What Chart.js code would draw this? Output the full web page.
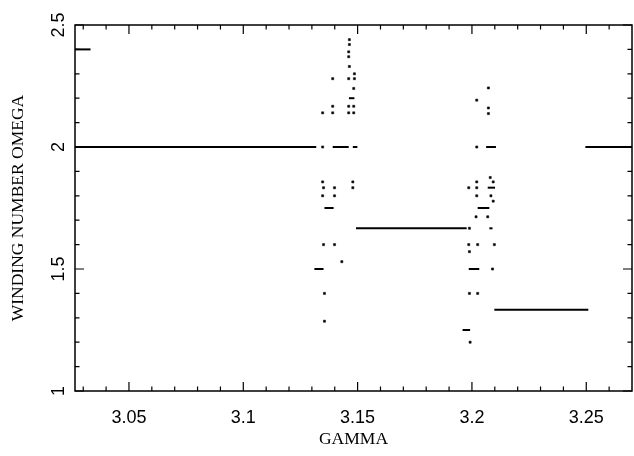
<!DOCTYPE html>
<html><head><meta charset="utf-8">
<script src="https://cdn.jsdelivr.net/npm/chart.js@4.4.1/dist/chart.umd.min.js"></script>
<style>html,body{margin:0;padding:0;background:#fff}#wrap{width:634px;height:456px}</style>
</head><body><div id="wrap"><canvas id="c" width="634" height="456"></canvas></div>
<script>
const X_MIN = 3.0264, X_MAX = 3.27, Y_MIN = 1, Y_MAX = 2.5;
const xMajorTicks = [3.05, 3.1, 3.15, 3.2, 3.25];
const xTickLabels = ['3.05', '3.1', '3.15', '3.2', '3.25'];
const xMinorTicks = [3.03,3.04,3.06,3.07,3.08,3.09,3.11,3.12,3.13,3.14,3.16,3.17,3.18,3.19,3.21,3.22,3.23,3.24,3.26];
const yMajorTicks = [1, 1.5, 2, 2.5];
const yTickLabels = ['1', '1.5', '2', '2.5'];
const yMinorTicks = [1.1,1.2,1.3,1.4,1.6,1.7,1.8,1.9,2.1,2.2,2.3,2.4];

// plateaus (horizontal runs of constant winding number)
const segGammaStart = [3.0264, 3.0264, 3.1391, 3.1479, 3.1493, 3.2098, 3.2496, 3.1355, 3.1311, 3.1462, 3.1959, 3.1986, 3.2069, 3.2025, 3.2062, 3.2076];
const segGammaEnd   = [3.0332, 3.1319, 3.1461, 3.1499, 3.1977, 3.2509, 3.2700, 3.1395, 3.1351, 3.1486, 3.1992, 3.2032, 3.2101, 3.2076, 3.2105, 3.2090];
const segOmega      = [2.4,    2.0,    2.0,    2.0,    1.6667, 1.3333, 2.0,    1.75,   1.5,    2.2,    1.25,   1.5,    1.8333, 1.75,   2.0,    1.6667];

// isolated points
const dotGamma = [
  3.1464, 3.1464, 3.1461, 3.1461, 3.1464,
  3.1391, 3.1461, 3.1486, 3.1486, 3.1483,
  3.1391, 3.1461, 3.1483,
  3.1347, 3.1391, 3.1461, 3.1483,
  3.1347,
  3.1347, 3.1479,
  3.1351, 3.1399, 3.1479,
  3.1347, 3.1399,
  3.1351, 3.1399, 3.1431, 3.1355, 3.1355,
  3.2072, 3.2021, 3.2072, 3.2072, 3.2021,
  3.2080, 3.2021, 3.2093, 3.1986, 3.2021,
  3.2021, 3.2083, 3.2093, 3.2018, 3.2069,
  3.1989, 3.1986, 3.2025, 3.2098, 3.1989,
  3.2090, 3.1989, 3.2025, 3.1992
];
const dotOmega = [
  2.44, 2.42, 2.39, 2.37, 2.33,
  2.28, 2.28, 2.28, 2.30, 2.24,
  2.167, 2.167, 2.167,
  2.14, 2.14, 2.14, 2.14,
  2.0,
  1.857, 1.857,
  1.833, 1.833, 1.833,
  1.8, 1.8,
  1.6, 1.6, 1.53, 1.4, 1.286,
  2.242, 2.192, 2.16, 2.137, 2.0,
  1.875, 1.857, 1.857, 1.833, 1.833,
  1.8, 1.8, 1.778, 1.714, 1.714,
  1.667, 1.6, 1.6, 1.6, 1.571,
  1.5, 1.4, 1.4, 1.2
];

const datasets = segOmega.map((w, i) => ({
  type: 'scatter', showLine: true,
  data: [{x: segGammaStart[i], y: w}, {x: segGammaEnd[i], y: w}],
  borderColor: '#000', borderWidth: 2, pointRadius: 0, pointHoverRadius: 0
}));
datasets.push({
  type: 'scatter',
  data: dotGamma.map((g, i) => ({x: g, y: dotOmega[i]})),
  backgroundColor: '#000', borderColor: '#000', borderWidth: 0.5,
  pointStyle: 'rect', pointRadius: 1.5, pointHoverRadius: 1.5
});

const tickPlugin = {
  id: 'frameTicks',
  afterDraw(chart) {
    const ctx = chart.ctx, a = chart.chartArea;
    const xs = chart.scales.x, ys = chart.scales.y;
    ctx.save();
    ctx.strokeStyle = '#000';
    ctx.lineWidth = 1.5;
    ctx.strokeRect(a.left, a.top, a.right - a.left, a.bottom - a.top);
    ctx.lineWidth = 1.2;
    const drawX = (v, len) => {
      const p = xs.getPixelForValue(v);
      ctx.beginPath();
      ctx.moveTo(p, a.bottom); ctx.lineTo(p, a.bottom - len);
      ctx.moveTo(p, a.top); ctx.lineTo(p, a.top + len);
      ctx.stroke();
    };
    const drawY = (v, len) => {
      const p = ys.getPixelForValue(v);
      ctx.beginPath();
      ctx.moveTo(a.left, p); ctx.lineTo(a.left + len, p);
      ctx.moveTo(a.right, p); ctx.lineTo(a.right - len, p);
      ctx.stroke();
    };
    xMajorTicks.forEach(v => drawX(v, 9));
    xMinorTicks.forEach(v => drawX(v, 4.5));
    yMajorTicks.forEach(v => drawY(v, 9));
    yMinorTicks.forEach(v => drawY(v, 4.5));
    // rotated y tick labels
    ctx.fillStyle = '#000';
    ctx.font = '18px "Liberation Sans", Arial, sans-serif';
    ctx.textAlign = 'center';
    ctx.textBaseline = 'middle';
    yMajorTicks.forEach((v, i) => {
      const p = ys.getPixelForValue(v);
      ctx.save();
      ctx.translate(59, p);
      ctx.rotate(-Math.PI / 2);
      ctx.fillText(yTickLabels[i], 0, 0);
      ctx.restore();
    });
    ctx.restore();
  }
};

new Chart(document.getElementById('c'), {
  type: 'scatter',
  data: {datasets},
  options: {
    responsive: false, animation: false, devicePixelRatio: 1,
    layout: {padding: {top: 25, right: 2, left: 0, bottom: 0}},
    plugins: {legend: {display: false}, tooltip: {enabled: false}},
    scales: {
      x: {
        type: 'linear', min: X_MIN, max: X_MAX,
        afterBuildTicks: s => { s.ticks = xMajorTicks.map(v => ({value: v})); },
        afterFit: s => { s.height = 65; },
        grid: {display: false, drawTicks: false},
        border: {display: false},
        ticks: {
          color: '#000', padding: 16, maxRotation: 0,
          font: {family: '"Liberation Sans", Arial, sans-serif', size: 18},
          callback: v => xTickLabels[xMajorTicks.indexOf(v)]
        },
        title: {display: true, text: 'GAMMA', color: '#000',
          font: {family: '"Liberation Serif", "Times New Roman", serif', size: 17.5},
          padding: {top: 0, bottom: 6}}
      },
      y: {
        type: 'linear', min: Y_MIN, max: Y_MAX,
        afterBuildTicks: s => { s.ticks = yMajorTicks.map(v => ({value: v})); },
        afterFit: s => { s.width = 75; },
        grid: {display: false, drawTicks: false},
        border: {display: false},
        ticks: {display: false},
        title: {display: true, text: 'WINDING NUMBER OMEGA', color: '#000',
          font: {family: '"Liberation Serif", "Times New Roman", serif', size: 17.5},
          padding: {top: 8, bottom: 0}}
      }
    }
  },
  plugins: [tickPlugin]
});
</script>
</body></html>
